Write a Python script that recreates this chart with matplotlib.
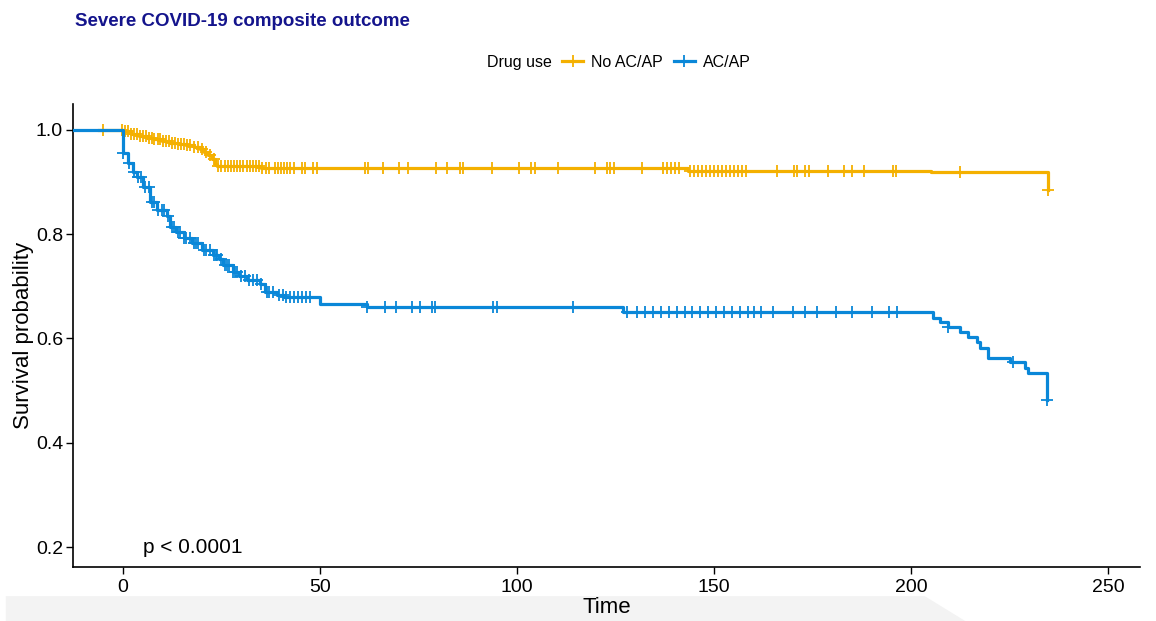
import numpy as np
import matplotlib.pyplot as plt
from matplotlib.lines import Line2D
from matplotlib.patches import Polygon

plt.rcParams['font.family'] = ['Liberation Sans', 'DejaVu Sans']

# Kaplan-Meier step values
no_time = [-6, 0, 2, 4, 6, 8, 10, 12, 14, 16, 18, 19.5, 20.5, 21.5, 22.5, 23.3, 24,
           35, 143.4, 205, 234.8]
no_surv = [1.0, 0.997, 0.992, 0.988, 0.985, 0.982, 0.979, 0.975, 0.972, 0.970, 0.967,
           0.963, 0.958, 0.952, 0.944, 0.935, 0.930, 0.926, 0.921, 0.920, 0.885]
no_cens = [-5, -0.3, 0.5, 1.2, 2, 2.8, 3.5, 4.3, 5, 5.8, 6.5, 7.3, 8, 8.8, 9.5, 10.3,
           11, 11.8, 12.5, 13.3, 14, 14.8, 15.5, 16.3, 17, 18, 19, 20, 21, 22, 23,
           24.2, 25, 25.8, 26.6, 27.4, 28.2, 29, 29.8, 30.6, 31.4, 32.2, 33, 33.8,
           34.6, 35.4, 36.2, 37, 38.5, 39.3, 40.1, 40.9, 41.7, 42.5, 43.3, 45.5, 46.3,
           48.2, 49.2, 61.4, 62.2, 66, 70, 72.3, 79.4, 82.2, 85.5, 86.3, 93.6, 100.5,
           103.6, 104.6, 110.4, 119.8, 122.8, 123.6, 124.6, 131.7, 137, 138, 139, 140,
           141, 144, 145, 146, 147, 148, 149, 150, 151, 152, 153, 154, 155, 156, 157,
           158, 166, 170.3, 171, 173, 174, 179, 183, 185, 188, 195.4, 196.2, 212.4,
           234.8]

ac_time = [-13, 0, 1.3, 2.5, 3.6, 5.1, 6.9, 8.6, 11.2, 12, 13.5, 15.5, 17.5, 20, 22.8,
           24.5, 25.4, 27.9, 29.5, 31.5, 34.8, 36, 39, 41, 50, 62, 127, 205.6, 207.4,
           209.4, 212.4, 214.5, 216.8, 217.5, 219.5, 225.1, 228.9, 229.7, 234.5]
ac_surv = [1.0, 0.956, 0.937, 0.919, 0.910, 0.891, 0.862, 0.846, 0.835, 0.814, 0.804,
           0.793, 0.783, 0.770, 0.760, 0.752, 0.741, 0.728, 0.720, 0.712, 0.704, 0.690,
           0.683, 0.680, 0.666, 0.660, 0.650, 0.640, 0.631, 0.622, 0.612, 0.603, 0.593,
           0.582, 0.563, 0.555, 0.543, 0.533, 0.482]
ac_cens = [0, 1.5, 2.8, 3.8, 4.5, 5.5, 6.5, 7.5, 8, 9, 10, 10.5, 11.5, 12.5, 13, 14,
           14.5, 15.5, 16, 17, 18, 18.5, 19, 20.5, 21, 22, 23, 23.5, 24, 25, 26, 26.5,
           27, 28, 28.5, 29, 30, 31, 32, 33, 34, 35, 36.5, 37, 38, 39.5, 40.5, 41.5,
           42.5, 43.5, 44.5, 45.5, 46.5, 47.5, 62, 66.5, 69.3, 73.4, 75.4, 78.4, 79.2,
           94, 95, 114.2, 128, 130.5, 132.5, 134.5, 136.5, 138.5, 140.5, 142.5, 144.5,
           146.5, 148.5, 150.5, 152.5, 154.5, 156.5, 158.5, 160, 162, 165, 170, 173,
           176, 181, 185, 190, 194.4, 196.4, 209.4, 225.8, 234.5]

groups = ['No AC/AP', 'AC/AP']
colors = ['#F4B000', '#0A87D8']

fig = plt.figure(figsize=(11.56, 6.21), dpi=100)

# light grey band at the bottom of the screenshot
fig.patches.append(Polygon([[0.005, 0.0], [0.005, 0.04], [0.80, 0.04], [0.835, 0.0]],
                           closed=True, transform=fig.transFigure,
                           facecolor='#f3f3f3', edgecolor='none', zorder=-5))

ax = fig.add_axes([0.063, 0.087, 0.923, 0.746])
ax.set_facecolor('none')

for t, s, c, col in [(no_time, no_surv, no_cens, colors[0]),
                     (ac_time, ac_surv, ac_cens, colors[1])]:
    t = np.array(t)
    s = np.array(s)
    ax.step(t, s, where='post', color=col, lw=2.3, zorder=3)
    c = np.array(c)
    idx = np.searchsorted(t, c, side='right') - 1
    ax.plot(c, s[idx], ls='none', marker='+', color=col, ms=9, mew=1.3, zorder=3)

ax.set_xlim(-12.7, 258)
ax.set_ylim(0.162, 1.05)
ax.set_xticks([0, 50, 100, 150, 200, 250])
ax.set_yticks([0.2, 0.4, 0.6, 0.8, 1.0])
ax.set_yticklabels(['0.2', '0.4', '0.6', '0.8', '1.0'])
ax.tick_params(labelsize=14, length=5, width=1)
ax.tick_params(axis='y', pad=2)
for side in ['top', 'right']:
    ax.spines[side].set_visible(False)
for side in ['left', 'bottom']:
    ax.spines[side].set_linewidth(1.2)
ax.set_xlabel('Time', fontsize=16, labelpad=1)
ax.set_ylabel('Survival probability', fontsize=16, labelpad=1)

ax.text(5, 0.2, 'p < 0.0001', fontsize=15, va='center', ha='left')

fig.text(0.065, 0.965, 'Severe COVID-19 composite outcome', fontsize=13.5,
         fontweight='bold', color='#14148C', va='center')

fig.text(0.421, 0.9, 'Drug use', fontsize=11.5, va='center', ha='left')
handles = [Line2D([], [], color=col, lw=2.3, marker='+', ms=9, mew=1.3) for col in colors]
fig.legend(handles, groups, loc='center left', bbox_to_anchor=(0.481, 0.9), ncol=2,
           frameon=False, fontsize=11.5, handlelength=1.3, handletextpad=0.5,
           columnspacing=0.7, borderaxespad=0)

fig.savefig('out.png', dpi=100)
